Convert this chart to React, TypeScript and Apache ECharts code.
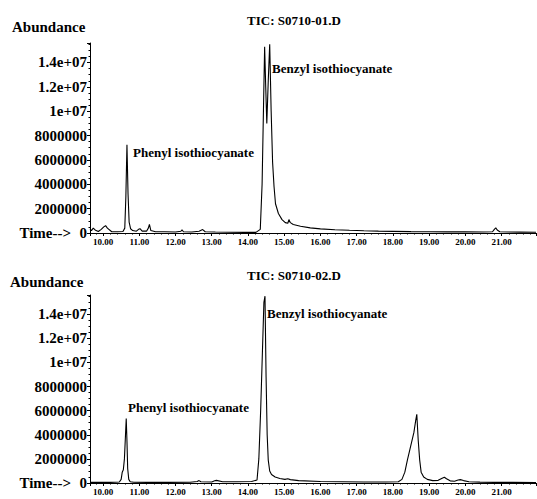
import React, { useEffect, useRef } from "react";
import * as echarts from "echarts";

// Retention-time axis range (minutes) and abundance range
const timeMin = 9.64;
const timeMax = 21.95;
const abundanceMax = 15.6e6;

const chartTitles = ["TIC: S0710-01.D", "TIC: S0710-02.D"];
const peakNames = ["Phenyl isothiocyanate", "Benzyl isothiocyanate"];

// Run 1: TIC S0710-01.D
const run1Times = [
  9.64, 9.68, 9.73, 9.78, 9.87, 9.95, 10.02, 10.07, 10.12, 10.24, 10.4, 10.55,
  10.6, 10.63, 10.66, 10.69, 10.72, 10.76, 10.82, 10.92, 10.98, 11.02, 11.08,
  11.2, 11.25, 11.28, 11.32, 11.45, 11.7, 12.0, 12.15, 12.18, 12.22, 12.45,
  12.65, 12.75, 12.82, 13.1, 13.5, 13.9, 14.22, 14.34, 14.39, 14.43, 14.46,
  14.49, 14.52, 14.56, 14.6, 14.64, 14.68, 14.72, 14.76, 14.84, 14.94, 15.03,
  15.1, 15.13, 15.17, 15.25, 15.45, 15.72, 16.0, 16.4, 16.8, 17.2, 17.6, 18.0,
  18.5, 19.0, 19.5, 20.0, 20.5, 20.75, 20.8, 20.84, 20.88, 20.95, 21.2, 21.5,
  21.95,
];
const run1Abundance = [
  0.35e6, 0.2e6, 0.4e6, 0.25e6, 0.12e6, 0.3e6, 0.5e6, 0.6e6, 0.4e6, 0.1e6,
  0.1e6, 0.12e6, 0.4e6, 3.0e6, 7.24e6, 3.2e6, 0.9e6, 0.35e6, 0.2e6, 0.15e6,
  0.3e6, 0.35e6, 0.15e6, 0.15e6, 0.4e6, 0.7e6, 0.2e6, 0.1e6, 0.1e6, 0.08e6,
  0.15e6, 0.25e6, 0.1e6, 0.08e6, 0.15e6, 0.28e6, 0.1e6, 0.08e6, 0.06e6,
  0.05e6, 0.05e6, 0.3e6, 4.0e6, 10.5e6, 15.3e6, 12.0e6, 9.0e6, 12.5e6,
  15.5e6, 10.0e6, 5.8e6, 3.8e6, 2.4e6, 1.6e6, 1.1e6, 0.85e6, 0.8e6, 1.1e6,
  0.85e6, 0.7e6, 0.55e6, 0.42e6, 0.34e6, 0.27e6, 0.22e6, 0.18e6, 0.15e6,
  0.13e6, 0.11e6, 0.1e6, 0.09e6, 0.09e6, 0.08e6, 0.1e6, 0.3e6, 0.42e6,
  0.25e6, 0.1e6, 0.08e6, 0.07e6, 0.06e6,
];

// Run 2: TIC S0710-02.D
const run2Times = [
  9.64, 9.9, 10.2, 10.45, 10.5, 10.53, 10.56, 10.59, 10.62, 10.64, 10.66,
  10.68, 10.71, 10.75, 10.85, 11.2, 11.8, 12.4, 12.6, 12.65, 12.7, 13.0, 13.08,
  13.13, 13.3, 13.7, 14.1, 14.25, 14.3, 14.35, 14.4, 14.44, 14.47, 14.5,
  14.53, 14.56, 14.6, 14.65, 14.75, 14.88, 15.02, 15.1, 15.17, 15.4, 16.0,
  16.6, 17.2, 17.8, 18.15, 18.25, 18.33, 18.4, 18.47, 18.53, 18.58, 18.63,
  18.66, 18.7, 18.74, 18.78, 18.85, 18.95, 19.1, 19.25, 19.36, 19.42, 19.48,
  19.58, 19.7, 19.8, 19.86, 19.95, 20.1, 20.4, 20.8, 21.3, 21.95,
];
const run2Abundance = [
  0.05e6, 0.05e6, 0.05e6, 0.08e6, 0.3e6, 0.9e6, 1.1e6, 2.0e6, 4.0e6, 5.36e6,
  3.5e6, 1.2e6, 0.3e6, 0.1e6, 0.06e6, 0.05e6, 0.05e6, 0.06e6, 0.12e6, 0.2e6,
  0.1e6, 0.08e6, 0.18e6, 0.22e6, 0.1e6, 0.1e6, 0.12e6, 0.25e6, 2.0e6, 6.0e6,
  11.0e6, 15.0e6, 15.5e6, 8.8e6, 4.0e6, 1.9e6, 1.0e6, 0.7e6, 0.5e6, 0.38e6,
  0.3e6, 0.35e6, 0.28e6, 0.2e6, 0.12e6, 0.1e6, 0.08e6, 0.08e6, 0.1e6, 0.3e6,
  0.9e6, 1.9e6, 2.8e6, 3.55e6, 4.2e6, 5.2e6, 5.7e6, 3.5e6, 1.9e6, 0.9e6,
  0.5e6, 0.3e6, 0.2e6, 0.22e6, 0.4e6, 0.48e6, 0.35e6, 0.18e6, 0.15e6, 0.25e6,
  0.28e6, 0.2e6, 0.1e6, 0.07e6, 0.05e6, 0.05e6, 0.04e6,
];

const SERIF = '"Liberation Serif", "Times New Roman", serif';

function zip(ts: number[], vs: number[]) {
  return ts.map((t, i) => [t, vs[i]]);
}

function yLabel(v: number) {
  if (Math.abs(v % 2e6) > 1) return "";
  if (v === 0) return "0";
  if (v >= 1e7) {
    const m = v / 1e7;
    return (Number.isInteger(m) ? String(m) : m.toFixed(1)) + "e+07";
  }
  return String(Math.round(v));
}

function xLabel(v: number) {
  if (Math.abs(v - Math.round(v)) > 1e-6) return "";
  return v.toFixed(2);
}

function makeXAxis(i: number) {
  return {
    type: "value",
    gridIndex: i,
    min: timeMin,
    max: timeMax,
    minInterval: 1,
    maxInterval: 1,
    splitNumber: 12,
    name: "Time-->",
    nameLocation: "start",
    nameGap: 19,
    nameTextStyle: {
      fontFamily: SERIF,
      fontWeight: "bold",
      fontSize: 15,
      color: "#000",
      padding: [10, 0, 0, 0],
    },
    axisLine: { onZero: false, lineStyle: { color: "#000", width: 1 } },
    axisTick: { length: 3, lineStyle: { color: "#000" } },
    minorTick: { show: true, splitNumber: 5, length: 1.5, lineStyle: { color: "#000" } },
    splitLine: { show: false },
    axisLabel: {
      formatter: xLabel,
      fontFamily: SERIF,
      fontWeight: "bold",
      fontSize: 9,
      color: "#000",
      margin: 4,
      showMinLabel: false,
      showMaxLabel: false,
    },
  };
}

function makeYAxis(i: number) {
  return {
    type: "value",
    gridIndex: i,
    min: 0,
    max: abundanceMax,
    minInterval: 2e6,
    maxInterval: 2e6,
    axisLine: { show: true, lineStyle: { color: "#000", width: 1 } },
    axisTick: { show: true, length: 3, lineStyle: { color: "#000" } },
    minorTick: { show: true, splitNumber: 4, length: 1.5, lineStyle: { color: "#000" } },
    splitLine: { show: false },
    axisLabel: {
      formatter: yLabel,
      fontFamily: SERIF,
      fontWeight: "bold",
      fontSize: 15,
      color: "#000",
      margin: 3,
    },
  };
}

function textEl(text: string, x: number, y: number, size: number, align = "left") {
  return {
    type: "text",
    x,
    y,
    style: {
      text,
      font: `bold ${size}px ${SERIF}`,
      fill: "#000",
      align,
      verticalAlign: "middle",
    },
  };
}

export default function App() {
  const ref = useRef<HTMLDivElement>(null);
  useEffect(() => {
    if (!ref.current) return;
    const chart = echarts.init(ref.current, undefined, { renderer: "svg" });
    chart.setOption({
      animation: false,
      backgroundColor: "#fff",
      grid: [
        { left: 90, top: 43, width: 446, height: 190, outerBoundsMode: "none", containLabel: false },
        { left: 90, top: 295, width: 446, height: 188, outerBoundsMode: "none", containLabel: false },
      ],
      xAxis: [makeXAxis(0), makeXAxis(1)],
      yAxis: [makeYAxis(0), makeYAxis(1)],
      series: [
        {
          type: "line",
          xAxisIndex: 0,
          yAxisIndex: 0,
          data: zip(run1Times, run1Abundance),
          showSymbol: false,
          lineStyle: { color: "#000", width: 1.1 },
        },
        {
          type: "line",
          xAxisIndex: 1,
          yAxisIndex: 1,
          data: zip(run2Times, run2Abundance),
          showSymbol: false,
          lineStyle: { color: "#000", width: 1.1 },
        },
      ],
      graphic: [
        textEl("Abundance", 12, 27, 15),
        textEl("Abundance", 10, 282, 15),
        textEl(chartTitles[0], 294, 20, 13, "center"),
        textEl(chartTitles[1], 294, 275, 13, "center"),
        textEl(peakNames[0], 133, 152, 13),
        textEl(peakNames[1], 272, 68, 13),
        textEl(peakNames[0], 128, 407, 13),
        textEl(peakNames[1], 267, 313, 13),
      ],
    });
    return () => chart.dispose();
  }, []);
  return (
    <div
      ref={ref}
      style={{ position: "absolute", left: 0, top: 0, width: 537, height: 499 }}
    />
  );
}
